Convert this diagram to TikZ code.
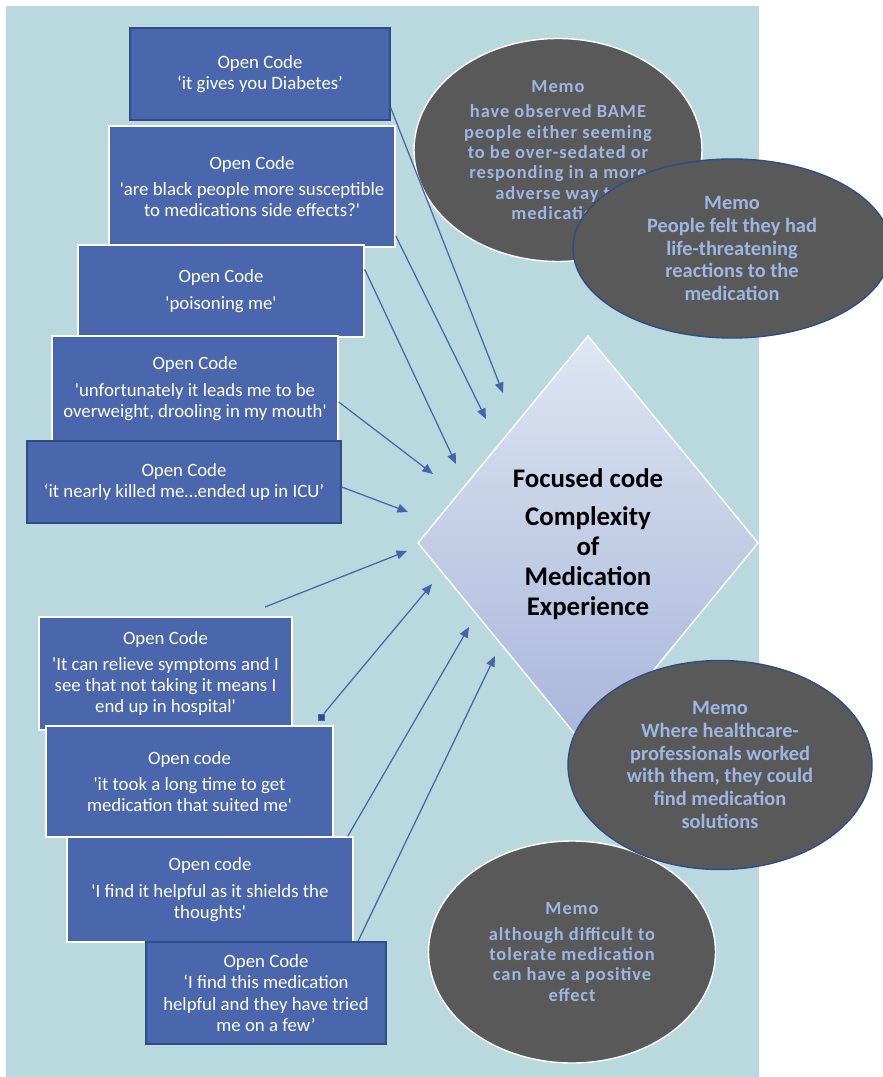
\documentclass[tikz,border=0pt]{standalone}
\usepackage{fontspec}
\newfontfamily\carlito{Carlito}
\newfontfamily\memofont[LetterSpace=5]{Carlito}
\usepackage{tikz}
\usetikzlibrary{arrows.meta,calc,shapes.geometric,positioning}

\definecolor{hintergrund}{HTML}{BAD9DE}
\definecolor{kastenblau}{HTML}{4A66AC}
\definecolor{randblau}{HTML}{2F4B8A}
\definecolor{memograu}{HTML}{595959}
\definecolor{memoschrift}{HTML}{9DB6E4}
\definecolor{pfeilblau}{HTML}{4564AE}
\definecolor{rautenoben}{HTML}{DDE6F1}
\definecolor{rautenunten}{HTML}{A8B5DB}

\tikzset{
  groesse/.style 2 args={minimum width=#1*0.02cm, minimum height=#2*0.02cm},
  opencode/.style={rectangle, fill=kastenblau, draw=white, line width=0.8pt, text=white,
    align=center, inner sep=0pt, font=\carlito\fontsize{10.7}{12}\selectfont},
  opencodedark/.style={opencode, draw=randblau},
  memo/.style={ellipse, fill=memograu, draw=white, line width=0.8pt, text=memoschrift,
    align=center, inner sep=0pt, font=\memofont\bfseries\fontsize{10.5}{11.6}\selectfont},
  memodark/.style={memo, draw=randblau, font=\carlito\bfseries\fontsize{11.6}{13}\selectfont},
  pfeil/.style={draw=pfeilblau, line width=0.7pt, -{Triangle[length=6pt,width=5pt]}},
}

\begin{document}
\begin{tikzpicture}[x=0.02cm, y=-0.02cm]
\useasboundingbox (0,0) rectangle (882,1077);
%Hintergrund
\fill[hintergrund] (6,6) rectangle (759,1077);

%Open Codes oben
\node[opencodedark, groesse={260}{92}] (b1) at (260,74) {Open Code\\‘it gives you Diabetes’};
\node[opencode, groesse={286}{121}] (b2) at (252,186.5) {Open Code\\[3pt]'are black people more susceptible\\to medications side effects?'};
\node[opencode, groesse={286}{92}] (b3) at (221,291) {Open Code\\[3pt]'poisoning me'};
\node[opencode, groesse={286}{105}] (b4) at (195,388.5) {Open Code\\[3pt]'unfortunately it leads me to be\\overweight, drooling in my mouth'};
\node[opencodedark, groesse={314}{82}] (b5) at (184,482) {Open Code\\‘it nearly killed me…ended up in ICU’};

%Open Codes unten
\node[opencode, groesse={253}{113}] (b6) at (165.5,673.5) {Open Code\\[3pt]'It can relieve symptoms and I\\see that not taking it means I\\end up in hospital'};
\node[opencode, groesse={287}{111}] (b7) at (189.5,781.5) {Open code\\[3pt]'it took a long time to get\\medication that suited me'};
\node[opencode, groesse={286}{105}] (b8) at (210,889.5) {Open code\\[3pt]'I find it helpful as it shields the\\thoughts'};
\node[opencodedark, groesse={240}{102}] (b9) at (266,993) {Open Code\\‘I find this medication\\helpful and they have tried\\me on a few’};

%Raute
\shadedraw[top color=rautenoben, bottom color=rautenunten, draw=white, line width=0.8pt]
  (588,336) -- (758,543) -- (588,750) -- (418,543) -- cycle;
\node[align=center, font=\carlito\bfseries\fontsize{15.3}{17}\selectfont] (focus) at (588,544)
  {Focused code\\[5pt]Complexity\\of\\Medication\\Experience};

%Memos
\node[memo, groesse={288}{223}] (m1) at (558,150) {Memo\\[3pt]have observed BAME\\people either seeming\\to be over-sedated or\\responding in a more\\adverse way to\\medication};
\node[memodark, groesse={318}{179}] (m2) at (732,248.5) {Memo\\People felt they had\\life-threatening\\reactions to the\\medication};
\node[memo, groesse={287}{222}] (m4) at (572,952) {Memo\\[3pt]although difficult to\\tolerate medication\\can have a positive\\effect};
\node[memodark, groesse={304}{209}] (m3) at (720,765) {Memo\\Where healthcare-\\professionals worked\\with them, they could\\find medication\\solutions};

%Anfaenge an den Kaesten
\coordinate (q1) at ($(b1.south east)+(0,-13)$);
\coordinate (q2) at ($(b2.south east)+(0,-12)$);
\coordinate (q3) at ($(b3.north east)+(0,25)$);
\coordinate (q4) at ($(b4.east)+(0,13.5)$);
\coordinate (q5) at ($(b5.east)+(0,5)$);
\coordinate (q6) at (265,607);
\node[rectangle, draw=pfeilblau, fill=randblau, line width=0.5pt, minimum size=6*0.02cm, inner sep=0pt] (q7) at (321,717) {};
\coordinate (q8) at ($(b8.north east)+(-6,0)$);
\coordinate (q9) at ($(b9.north)+(92,0)$);
%Pfeilspitzen
\coordinate (z1) at (503,393);
\coordinate (z2) at (486,419);
\coordinate (z3) at (456,464);
\coordinate (z4) at (433,474);
\coordinate (z5) at (408,512);
\coordinate (z6) at (407,551);
\coordinate (z7) at (432,584);
\coordinate (z8) at (469,627);
\coordinate (z9) at (495,656);

\foreach \i in {1,2,3,4,5,6,7,8,9}{
  \draw[pfeil] (q\i) -- (z\i);
}
\end{tikzpicture}
\end{document}
